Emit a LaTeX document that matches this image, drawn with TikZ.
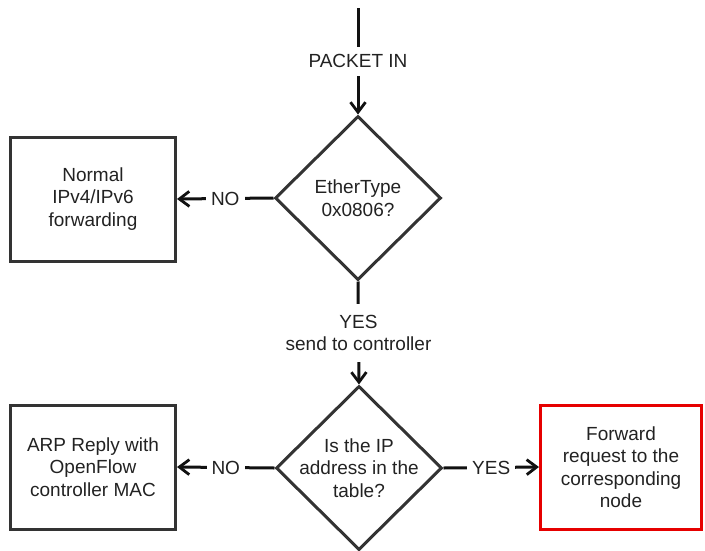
\documentclass[tikz,border=0pt]{standalone}
\usepackage{fontspec}
\setmainfont{Liberation Sans}
\usetikzlibrary{shapes.geometric,arrows.meta}
\definecolor{edgegray}{HTML}{333333}
\definecolor{inkgray}{HTML}{222222}
\definecolor{linkblack}{HTML}{111111}
\definecolor{alertred}{HTML}{E60000}
\begin{document}
\begin{tikzpicture}[x=1pt,y=-1pt,
  font=\fontsize{19}{22.5}\selectfont,
  every node/.style={text=inkgray},
  procbox/.style={draw=edgegray, line width=3pt, minimum width=165pt,
    minimum height=124pt, align=center, inner sep=0pt},
  decision/.style={diamond, draw=edgegray, line width=3pt, aspect=1,
    minimum width=166pt, minimum height=164pt, inner sep=-12pt, align=center},
  flow/.style={draw=linkblack, line width=3pt,
    -{Straight Barb[length=10pt,width=15pt,line width=2.8pt]}},
  cut/.style={fill=white, inner xsep=5pt, inner ysep=8pt, align=center}]
\useasboundingbox (0,0) rectangle (705,550);

% decisions
\node[decision] (d1) at (358,198) {EtherType\\0x0806?};
\node[decision] (d2) at (359,468) {Is the IP\\address in the\\table?};

% actions
\node[procbox] (fwd) at (93,199) {Normal\\IPv4/IPv6\\forwarding};
\node[procbox] (arp) at (93,467) {ARP Reply with\\OpenFlow\\controller MAC};
\node[procbox, draw=alertred, minimum width=161pt] (req) at (621,467)
  {Forward\\request to the\\corresponding\\node};

% incoming packet
\coordinate (in) at (358,8);

% connectors
\draw[flow] (in) -- node[cut] {PACKET IN} (d1.north);
\draw[flow] (d1.west) -- node[cut] {NO} (fwd.east);
\draw[flow] (d1.south) -- node[cut, inner ysep=11pt] {YES\\send to controller} (d2.north);
\draw[flow] (d2.west) -- node[cut] {NO} (arp.east);
\draw[flow] (d2.east) -- node[cut] {YES} (req.west);
\end{tikzpicture}
\end{document}
